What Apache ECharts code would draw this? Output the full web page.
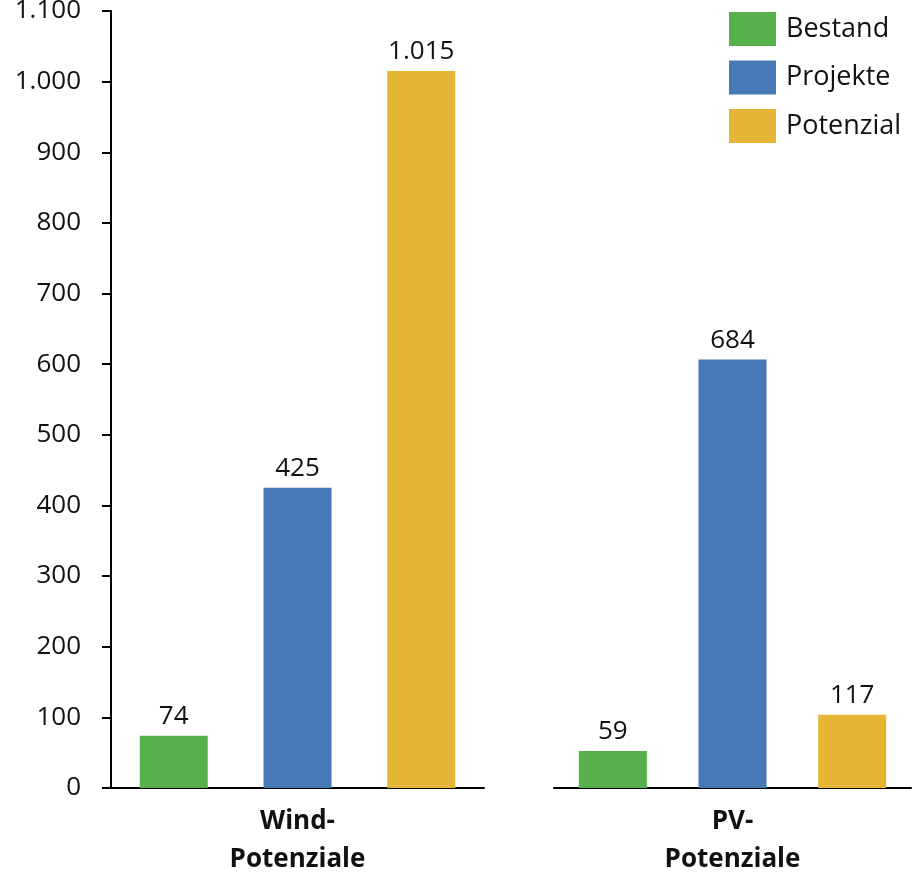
<!DOCTYPE html>
<html>
<head>
<meta charset="utf-8">
<script src="https://cdn.jsdelivr.net/npm/echarts@6/dist/echarts.min.js"></script>
<style>
html,body{margin:0;padding:0;background:#fff;}
#chart{width:912px;height:872px;}
</style>
</head>
<body>
<div id="chart"></div>
<script>
const seriesNames = ['Bestand', 'Projekte', 'Potenzial'];
const windCategories = ['Wind-\nPotenziale'];
const pvCategories = ['PV-\nPotenziale'];
const windValues = [74, 425, 1015];
const pvValues = [59, 684, 117];
const yTickMax = 1100;
const yTickStep = 100;
const pvAxisMax = 1240;
const colors = ['#56B04C', '#4779B6', '#E5B536'];

const FONT = '"Open Sans", "Noto Sans", sans-serif';
const fmt = v => Number(v).toLocaleString('de-DE');

const chart = echarts.init(document.getElementById('chart'));

function makeSeries(values, axisIdx, gap) {
  return values.map((v, i) => ({
    name: seriesNames[i],
    type: 'bar',
    xAxisIndex: axisIdx,
    yAxisIndex: axisIdx,
    data: [v],
    barWidth: 68,
    barGap: gap,
    itemStyle: { color: colors[i] },
    label: {
      show: true,
      position: 'top',
      distance: 6,
      color: '#111',
      fontFamily: FONT,
      fontSize: 26,
      formatter: p => fmt(p.value)
    }
  }));
}

const xAxisCommon = {
  type: 'category',
  axisLine: { show: true, lineStyle: { color: '#000', width: 2 } },
  axisTick: { show: false },
  axisLabel: {
    color: '#111',
    fontFamily: FONT,
    fontWeight: 'bold',
    fontSize: 26,
    lineHeight: 38,
    margin: 15
  }
};

chart.setOption({
  animation: false,
  backgroundColor: '#fff',
  legend: {
    orient: 'vertical',
    left: 729,
    top: 12,
    padding: 0,
    itemWidth: 47,
    itemHeight: 34,
    itemGap: 14.5,
    icon: 'rect',
    data: seriesNames,
    textStyle: { fontFamily: FONT, fontSize: 27, color: '#111', padding: [4, 0, 0, 5] }
  },
  grid: [
    { left: 111, right: 428, top: 11, bottom: 84, outerBoundsMode: 'none', containLabel: false },
    { left: 554, right: 1, top: 11, bottom: 84, outerBoundsMode: 'none', containLabel: false }
  ],
  xAxis: [
    Object.assign({}, xAxisCommon, { gridIndex: 0, data: windCategories }),
    Object.assign({}, xAxisCommon, { gridIndex: 1, data: pvCategories })
  ],
  yAxis: [
    {
      gridIndex: 0,
      type: 'value',
      min: 0,
      max: yTickMax,
      interval: yTickStep,
      axisLine: { show: true, lineStyle: { color: '#000', width: 2 } },
      axisTick: { show: true, length: 9, lineStyle: { color: '#000', width: 2 } },
      splitLine: { show: false },
      axisLabel: {
        color: '#111',
        fontFamily: FONT,
        fontSize: 26,
        margin: 30,
        formatter: v => fmt(v)
      }
    },
    {
      gridIndex: 1,
      type: 'value',
      min: 0,
      max: pvAxisMax,
      show: false,
      splitLine: { show: false }
    }
  ],
  series: [].concat(makeSeries(windValues, 0, '82%'), makeSeries(pvValues, 1, '76%'))
});
</script>
</body>
</html>
